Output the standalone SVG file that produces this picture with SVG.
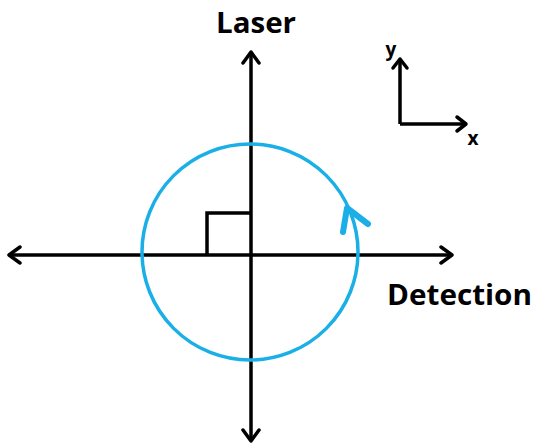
<svg xmlns="http://www.w3.org/2000/svg" width="536" height="444" viewBox="0 0 536 444">
<style>
.ax{stroke:#000;stroke-width:3.5;fill:none}
.hd{stroke:#000;stroke-width:3.5;fill:none;stroke-linecap:round;stroke-linejoin:round}
.lbl{font-family:"Open Sans","Liberation Sans",sans-serif;font-weight:bold;fill:#000}
.cir{stroke:#1AAFE6;stroke-width:3.5;fill:none}
</style>
<rect width="536" height="444" fill="#fff"/>
<g id="connectors">
<line class="ax" x1="251" y1="52" x2="251" y2="441"/>
<path class="hd" d="M243,63 L251,52 L259,63"/>
<path class="hd" d="M243,430 L251,441 L259,430"/>
<line class="ax" x1="9" y1="255" x2="452" y2="255"/>
<path class="hd" d="M20,247 L9,255 L20,263"/>
<path class="hd" d="M441,247 L452,255 L441,263"/>
<path class="ax" d="M207,255 V213 H251"/>
<line class="ax" x1="400" y1="59" x2="400" y2="124"/>
<line class="ax" x1="400" y1="124" x2="466" y2="124"/>
<path class="hd" d="M393,68 L400,59 L407,68"/>
<path class="hd" d="M457,117 L466,124 L457,131"/>
</g>
<g id="circle">
<circle class="cir" cx="250" cy="252" r="108"/>
<path d="M343,232 L347,208 L368,224" stroke="#1AAFE6" stroke-width="6" fill="none" stroke-linecap="round" stroke-linejoin="round"/>
</g>
<g id="laser">
<text class="lbl" x="256" y="33" font-size="28" text-anchor="middle" textLength="80" lengthAdjust="spacingAndGlyphs">Laser</text>
</g>
<g id="detection">
<text class="lbl" x="387" y="305" font-size="28" textLength="145" lengthAdjust="spacingAndGlyphs">Detection</text>
</g>
<g id="y-label">
<text class="lbl" x="391" y="56" font-size="19" text-anchor="middle">y</text>
</g>
<g id="x-label">
<text class="lbl" x="473" y="145" font-size="19" text-anchor="middle">x</text>
</g>
</svg>
